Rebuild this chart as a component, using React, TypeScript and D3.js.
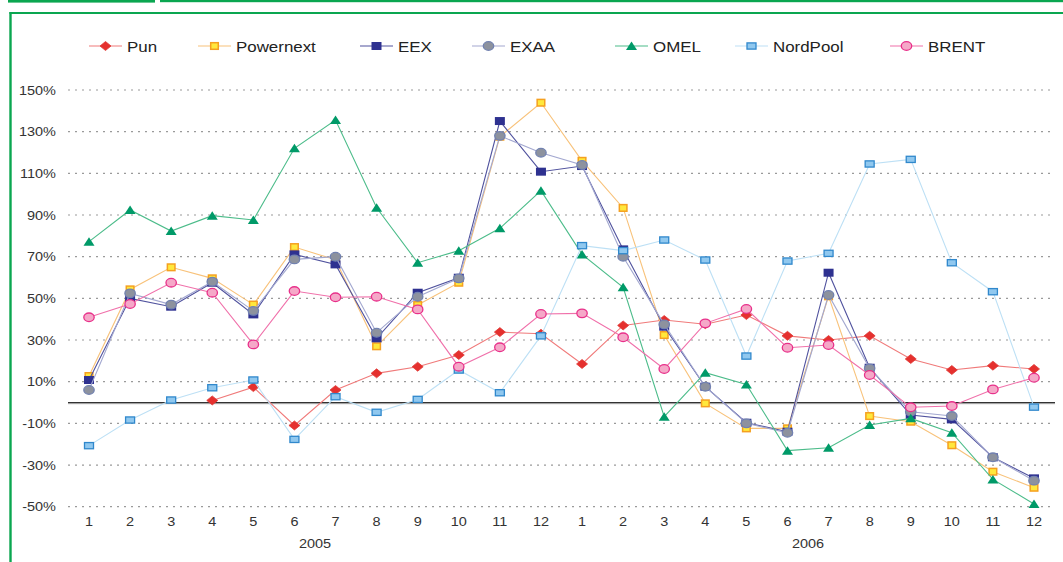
import React from "react";
import * as d3 from "d3";

const months = ["1","2","3","4","5","6","7","8","9","10","11","12","1","2","3","4","5","6","7","8","9","10","11","12"];
const years = ["2005", "2006"];
const yTicks = [150, 130, 110, 90, 70, 50, 30, 10, -10, -30, -50];

const pun = [null, null, null, 1, 7.4, -11, 6, 14, 17.2, 22.8, 33.8, 33, 18.5, 37, 39.6, 37.6, 42, 32, 30, 32, 20.9, 15.6, 17.7, 16.1];
const powernext = [12.7, 54.3, 64.9, 59.6, 47, 74.6, 68.5, 27, 46.8, 57.5, 127.6, 143.9, 116, 93.4, 32.4, -0.4, -12.4, -12.4, 51, -6.5, -9.2, -20.5, -33.2, -40.9];
const eex = [10.8, 50, 46, 57.5, 42.3, 71.1, 66.3, 30.8, 52.7, 59.9, 135.1, 110.8, 113.5, 73.5, 36.4, 7.6, -9.7, -14, 62.3, 16.7, -6, -8.1, -26.3, -36.4];
const exaa = [6, 52.4, 47, 58, 44, 68.7, 70, 33.5, 50.8, 59.6, 128, 119.9, 114, 70, 37.5, 7.6, -10, -14.5, 51.6, 16.4, -4.4, -6.5, -26.3, -37.5];
const omel = [77.2, 92.4, 82.3, 89.7, 87.6, 122, 135.6, 93.5, 67.1, 72.9, 83.6, 101.7, 71.1, 55.3, -6.8, 14.3, 8.7, -23.1, -21.7, -10.8, -7.6, -14.5, -36.9, -48.7];
const nordpool = [-20.7, -8.4, 1.2, 7.1, 10.8, -17.7, 2.8, -4.7, 1.5, 15.6, 4.7, 32, 75.3, 72.9, 78, 68.4, 22.3, 67.9, 71.6, 114.5, 116.7, 67.1, 53.2, -2.2];
const brent = [40.9, 47.3, 57.5, 52.7, 27.9, 53.5, 50.5, 50.8, 44.7, 17.2, 26.5, 42.5, 42.8, 31.3, 16.1, 38, 44.9, 26.3, 27.6, 13.2, -2.3, -1.7, 6.3, 11.9];

type Shape = "diamond" | "square" | "bigsquare" | "circle" | "triangle" | "flatsquare";
interface Series { name: string; values: (number | null)[]; line: string; fill: string; stroke: string; shape: Shape; legendX: number; }

const series: Series[] = [
  { name: "Pun", values: pun, line: "#f07a7a", fill: "#e5302e", stroke: "#e03a36", shape: "diamond", legendX: 89 },
  { name: "Powernext", values: powernext, line: "#f8c27a", fill: "#ffe83c", stroke: "#f5a020", shape: "square", legendX: 198 },
  { name: "EEX", values: eex, line: "#50529e", fill: "#2e3190", stroke: "#2e3190", shape: "bigsquare", legendX: 360 },
  { name: "EXAA", values: exaa, line: "#a3a8d0", fill: "#8d929e", stroke: "#7282b0", shape: "circle", legendX: 472 },
  { name: "OMEL", values: omel, line: "#4cbc8a", fill: "#009a68", stroke: "#009a68", shape: "triangle", legendX: 615 },
  { name: "NordPool", values: nordpool, line: "#bde0f5", fill: "#90c8ef", stroke: "#3088cc", shape: "flatsquare", legendX: 735 },
  { name: "BRENT", values: brent, line: "#f070aa", fill: "#f5a8c8", stroke: "#e8308a", shape: "circle", legendX: 890 },
];

const FONT = "'Liberation Sans', Arial, sans-serif";
const SX = 1.15;
const GREEN = "#0aa650";

function Marker({ s, x, y }: { s: Series; x: number; y: number }) {
  switch (s.shape) {
    case "diamond":
      return <path d={`M${x - 5.5},${y}L${x},${y - 4.5}L${x + 5.5},${y}L${x},${y + 4.5}Z`} fill={s.fill} stroke={s.stroke} strokeWidth={0.8} />;
    case "square":
      return <rect x={x - 3.8} y={y - 3.3} width={7.6} height={6.6} fill={s.fill} stroke={s.stroke} strokeWidth={1.5} />;
    case "bigsquare":
      return <rect x={x - 5} y={y - 4} width={10} height={8} fill={s.fill} />;
    case "flatsquare":
      return <rect x={x - 4.5} y={y - 3.1} width={9} height={6.2} fill={s.fill} stroke={s.stroke} strokeWidth={1.3} />;
    case "circle":
      return <ellipse cx={x} cy={y} rx={5.2} ry={4.3} fill={s.fill} stroke={s.stroke} strokeWidth={1.3} />;
    case "triangle":
      return <path d={`M${x - 5.5},${y + 4}L${x},${y - 4.5}L${x + 5.5},${y + 4}Z`} fill={s.fill} />;
  }
  return null;
}

export default function App() {
  const W = 1063, H = 562;
  const x = d3.scalePoint<number>().domain(d3.range(months.length)).range([89, 1034]);
  const y = d3.scaleLinear().domain([-50, 150]).range([506.7, 90]);
  const line = d3.line<number | null>()
    .defined((d) => d !== null)
    .x((_, i) => x(i)!)
    .y((d) => y(d as number));
  const left = 68, right = 1055;

  return (
    <svg width={W} height={H} style={{ position: "absolute", left: 0, top: 0, background: "#fff" }}>
      {/* frame */}
      <rect x={8} y={0} width={147} height={2.6} fill={GREEN} />
      <rect x={160} y={0} width={903} height={2.2} fill={GREEN} />
      <line x1={9.5} y1={13} x2={W} y2={13} stroke={GREEN} strokeWidth={2.2} />
      <line x1={10.5} y1={12} x2={10.5} y2={H} stroke={GREEN} strokeWidth={2.4} />

      {/* legend */}
      {series.map((s) => {
        const cx = s.legendX + 16.5;
        return (
          <g key={s.name}>
            <line x1={s.legendX} x2={s.legendX + 33} y1={46} y2={46} stroke={s.line} strokeWidth={1.2} />
            <Marker s={s} x={cx} y={46} />
            <g transform={`translate(${s.legendX + 38},51.5) scale(${SX},1)`}>
              <text fontFamily={FONT} fontSize={14.7} fill="#222">{s.name}</text>
            </g>
          </g>
        );
      })}

      {/* grid */}
      {yTicks.map((t) => (
        <g key={t}>
          <line x1={left} x2={right} y1={y(t)} y2={y(t)} stroke="#9a9a9a" strokeWidth={1.2} strokeDasharray="2,5" />
          <g transform={`translate(56,${y(t) + 4.5}) scale(${SX},1)`}>
            <text fontFamily={FONT} fontSize={12.6} fill="#333" textAnchor="end">{`${t}%`}</text>
          </g>
        </g>
      ))}
      <line x1={left} x2={right} y1={y(0) + 1.2} y2={y(0) + 1.2} stroke="#bbb" strokeWidth={1} />
      <line x1={left} x2={right} y1={y(0)} y2={y(0)} stroke="#333" strokeWidth={1.3} />

      {/* x axis labels */}
      {months.map((m, i) => (
        <g key={i} transform={`translate(${x(i)},526) scale(${SX},1)`}>
          <text fontFamily={FONT} fontSize={12.6} fill="#333" textAnchor="middle">{m}</text>
        </g>
      ))}
      {years.map((yr, k) => (
        <g key={yr} transform={`translate(${(x(k * 12 + 5)! + x(k * 12 + 6)!) / 2},548) scale(${SX},1)`}>
          <text fontFamily={FONT} fontSize={12.6} fill="#333" textAnchor="middle">{yr}</text>
        </g>
      ))}

      {/* series */}
      {series.map((s) => (
        <g key={s.name}>
          <path d={line(s.values) || ""} fill="none" stroke={s.line} strokeWidth={1.1} />
          {s.values.map((v, i) => (v === null ? null : <Marker key={i} s={s} x={x(i)!} y={y(v)} />))}
        </g>
      ))}
    </svg>
  );
}
